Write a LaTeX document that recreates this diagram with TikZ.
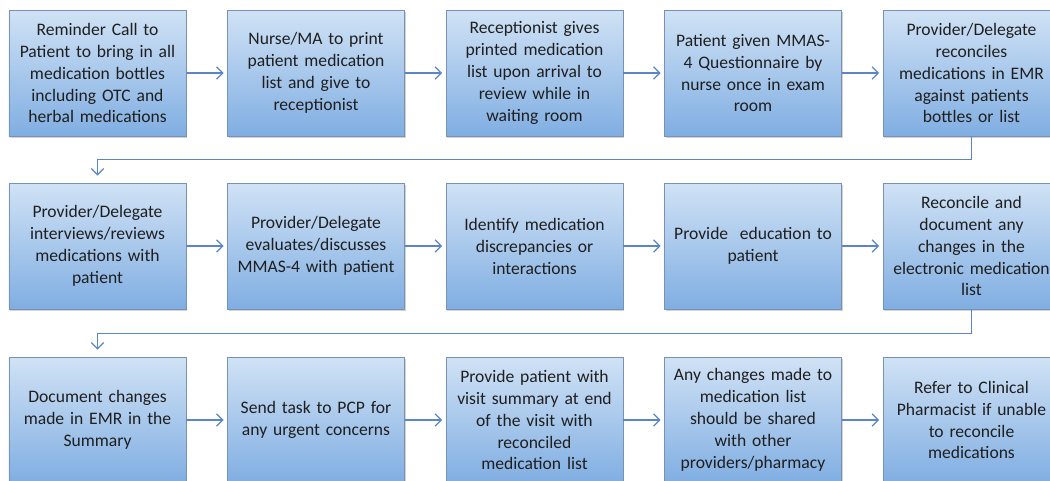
\documentclass[tikz,border=0pt]{standalone}
\usepackage{fontspec}
\setmainfont{Carlito}
\usepackage{tikz}
\usetikzlibrary{arrows.meta, shadows}

\definecolor{boxtop}{RGB}{208,226,245}
\definecolor{boxbot}{RGB}{128,174,226}
\definecolor{boxedge}{RGB}{120,146,180}
\definecolor{flowblue}{RGB}{90,134,200}

\begin{document}
\begin{tikzpicture}[
  stepbox/.style={draw=boxedge, line width=0.4pt, top color=boxtop, bottom color=boxbot,
    minimum width=3.54cm, minimum height=2.52cm, text width=3.4cm, align=center,
    inner sep=1pt, font=\fontsize{10}{12.5}\selectfont, text=black!88,
    drop shadow={opacity=0.35, shadow xshift=0.6pt, shadow yshift=-1pt}},
  flow/.style={-{Straight Barb[length=3.5pt, width=7pt]}, line width=0.7pt, flowblue, shorten >=2pt},
  back/.style={-{Straight Barb[length=3.5pt, width=7pt]}, line width=0.7pt, flowblue, rounded corners=0pt},
]
\useasboundingbox (0,0) rectangle (21,-9.6);
\fill[white] (0,0) rectangle (21,-9.6);

% Row 1
\node[stepbox] (remind) at (1.95,-1.46) {Reminder Call to\\ Patient to bring in all\\ medication bottles\\ including OTC and\\ herbal medications};
\node[stepbox] (print) at (6.32,-1.46) {Nurse/MA to print\\ patient medication\\ list and give to\\ receptionist};
\node[stepbox] (arrival) at (10.69,-1.46) {Receptionist gives\\ printed medication\\ list upon arrival to\\ review while in\\ waiting room};
\node[stepbox] (mmas) at (15.06,-1.46) {Patient given MMAS-\\ 4 Questionnaire by\\ nurse once in exam\\ room};
\node[stepbox] (emr) at (19.43,-1.46) {Provider/Delegate\\ reconciles\\ medications in EMR\\ against patients\\ bottles or list};

% Row 2
\node[stepbox] (interview) at (1.95,-4.92) {Provider/Delegate\\ interviews/reviews\\ medications with\\ patient};
\node[stepbox] (evaluate) at (6.32,-4.92) {Provider/Delegate\\ evaluates/discusses\\ MMAS-4 with patient};
\node[stepbox] (identify) at (10.69,-4.92) {Identify medication\\ discrepancies or\\ interactions};
\node[stepbox] (educate) at (15.06,-4.92) {Provide~~education to\\ patient};
\node[stepbox] (document) at (19.43,-4.92) {Reconcile and\\ document any\\ changes in the\\ electronic medication\\ list};

% Row 3
\node[stepbox] (summary) at (1.95,-8.40) {Document changes\\ made in EMR in the\\ Summary};
\node[stepbox] (task) at (6.32,-8.40) {Send task to PCP for\\ any urgent concerns};
\node[stepbox] (visit) at (10.69,-8.40) {Provide patient with\\ visit summary at end\\ of the visit with\\ reconciled\\ medication list};
\node[stepbox] (share) at (15.06,-8.40) {Any changes made to\\ medication list\\ should be shared\\ with other\\ providers/pharmacy};
\node[stepbox] (refer) at (19.43,-8.40) {Refer to Clinical\\ Pharmacist if unable\\ to reconcile\\ medications};

% Arrows along each row
\draw[flow] (remind.east) -- (print.west);
\draw[flow] (print.east) -- (arrival.west);
\draw[flow] (arrival.east) -- (mmas.west);
\draw[flow] (mmas.east) -- (emr.west);
\draw[flow] (interview.east) -- (evaluate.west);
\draw[flow] (evaluate.east) -- (identify.west);
\draw[flow] (identify.east) -- (educate.west);
\draw[flow] (educate.east) -- (document.west);
\draw[flow] (summary.east) -- (task.west);
\draw[flow] (task.east) -- (visit.west);
\draw[flow] (visit.east) -- (share.west);
\draw[flow] (share.east) -- (refer.west);

% Wrap-around to the next row
\draw[back, shorten >=4pt] (emr.south) -- ++(0,-0.47) -| (interview.north);
\draw[back, shorten >=4pt] (document.south) -- ++(0,-0.48) -| (summary.north);
\end{tikzpicture}
\end{document}
